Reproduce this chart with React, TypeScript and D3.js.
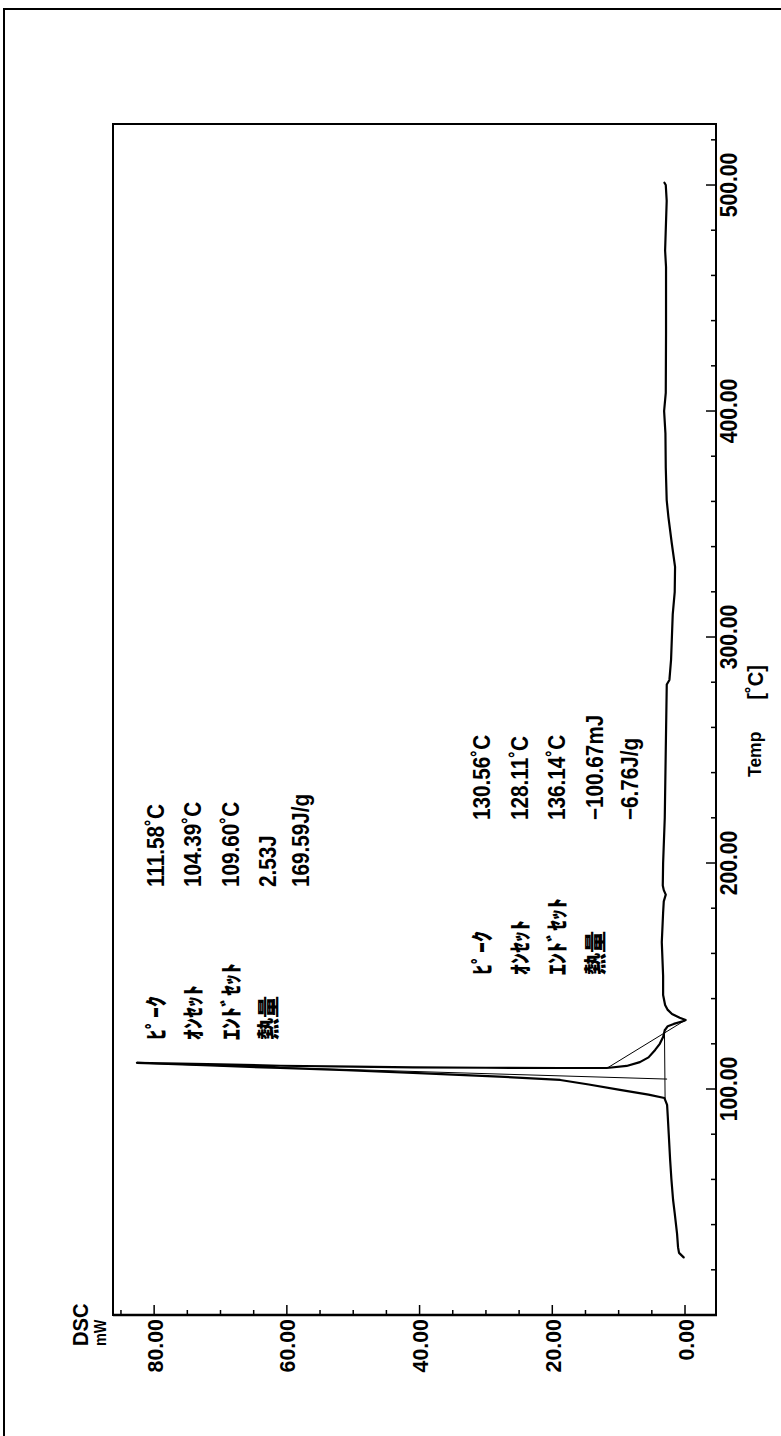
import React from "react";
import * as d3 from "d3";

// ---- data (temperature in °C, DSC signal in mW) ----
const traceTemp = [
  25.5, 27.5, 30, 36, 45, 51, 60, 69, 80, 88, 93, 96,
  97.5, 99.6, 102, 104, 105.5, 107.1, 108.3, 109.3, 110.4, 111.2, 111.58,
  111.0, 110.3, 109.9, 109.6, 109.4, 109.3, 109.3, 110.2, 111.9, 114, 117.3, 120, 123, 126,
  127.8, 128.8, 130.1, 130.56, 131.5, 133.2, 135, 137.2, 141.6, 150, 165, 178, 183, 186, 188,
  190, 200, 220, 250, 279, 281, 290, 310, 320, 331, 341.6, 353, 360.6, 375, 390, 400, 408,
  434.5, 463.7, 471, 493, 500, 501,
];
const traceDsc = [
  0.2, 0.9, 1.05, 1.2, 1.55, 1.8, 2.05, 2.25, 2.45, 2.6, 2.7, 3.1,
  5.5, 9.8, 14.5, 18.8, 28, 41, 51, 61, 71.5, 79, 82.6,
  72, 61, 50, 41, 30, 18.8, 11.8, 8.8, 6.8, 5.5, 4.5, 3.8, 3.3, 3.05,
  2.6, 1.7, 0.2, -0.1, 0.8, 1.96, 2.6, 3.0, 3.3, 3.3, 3.5, 3.3, 3.2, 2.9, 3.2,
  3.35, 3.3, 3.05, 2.9, 2.75, 2.35, 2.1, 1.85, 1.55, 1.5, 2.0, 2.5, 2.76, 2.9, 2.95, 3.15, 2.9,
  2.86, 2.86, 3.0, 2.76, 2.9, 3.1,
];

// analysis lines
const baselineTemp = [95.5, 126.5];
const baselineDsc = [3.0, 3.1];
const onsetTangentTemp = [104.39, 111.3];
const onsetTangentDsc = [2.7, 81];
const slopeLineTemp = [109.5, 130.56];
const slopeLineDsc = [11.6, -0.1];

const tempTickValues = d3.range(20, 527, 20);
const tempLabelValues = [100, 200, 300, 400, 500];
const dscTickValues = d3.range(0, 86, 5);
const dscLabelValues = [0, 20, 40, 60, 80];

const peak1Labels = ["ﾋﾟｰｸ", "ｵﾝｾｯﾄ", "ｴﾝﾄﾞｾｯﾄ", "熱量"];
const peak1Values = ["111.58˚C", "104.39˚C", "109.60˚C", "2.53J", "169.59J/g"];
const peak2Labels = ["ﾋﾟｰｸ", "ｵﾝｾｯﾄ", "ｴﾝﾄﾞｾｯﾄ", "熱量"];
const peak2Values = ["130.56˚C", "128.11˚C", "136.14˚C", "−100.67mJ", "−6.76J/g"];

const W = 781;
const H = 1436;
const box = { left: 113, right: 716, top: 124, bottom: 1315 };

const FONT = "'Liberation Sans', Arial, sans-serif";
const JFONT = "'Noto Sans CJK JP', sans-serif";

export default function App() {
  // original chart rotated -90°: temperature runs bottom->top, DSC runs right->left
  const yT = d3.scaleLinear().domain([0, 527]).range([box.bottom, box.top]);
  const xD = d3.scaleLinear().domain([-4.67, 86.2]).range([box.right, box.left]);

  const line = d3
    .line<[number, number]>()
    .x((d) => xD(d[1]))
    .y((d) => yT(d[0]));

  const zip = (a: number[], b: number[]) => a.map((t, i) => [t, b[i]] as [number, number]);

  const tracePath = line(zip(traceTemp, traceDsc)) || "";
  const basePath = line(zip(baselineTemp, baselineDsc)) || "";
  const onsetPath = line(zip(onsetTangentTemp, onsetTangentDsc)) || "";
  const slopePath = line(zip(slopeLineTemp, slopeLineDsc)) || "";

  const fmt = d3.format(".2f");

  const rotText = (
    key: string,
    x: number,
    y: number,
    text: string,
    anchor: "start" | "middle" | "end",
    size: number,
    sx = 1,
    family = FONT,
    weight: string | number = "bold"
  ) => (
    <text
      key={key}
      transform={`translate(${x},${y}) rotate(-90) scale(${sx},1)`}
      textAnchor={anchor}
      fontFamily={family}
      fontWeight={weight}
      fontSize={size}
      fill="#000"
    >
      {text}
    </text>
  );

  const p1Base = [164, 201, 239, 276, 309];
  const p2Base = [490, 528, 565, 603, 638];

  return (
    <svg
      width={W}
      height={H}
      style={{ position: "absolute", left: 0, top: 0, background: "#fff" }}
    >
      <rect x={0} y={0} width={W} height={H} fill="#fff" />
      {/* outer frame */}
      <path d={`M4,${H} V9 H${W}`} fill="none" stroke="#000" strokeWidth={2} />
      {/* plot box */}
      <rect
        x={box.left}
        y={box.top}
        width={box.right - box.left}
        height={box.bottom - box.top}
        fill="none"
        stroke="#000"
        strokeWidth={2}
      />
      <line x1={box.left} x2={box.right + 1} y1={box.bottom} y2={box.bottom} stroke="#000" strokeWidth={2.5} />

      {/* temperature ticks (right side, inward) */}
      {tempTickValues.map((t) => {
        const major = t % 100 === 0;
        return (
          <line
            key={"tt" + t}
            x1={box.right}
            x2={box.right - (major ? 10 : 5)}
            y1={yT(t)}
            y2={yT(t)}
            stroke="#000"
            strokeWidth={1.5}
          />
        );
      })}
      {tempLabelValues.map((t) => rotText("tl" + t, 737, yT(t), fmt(t), "middle", 23, 0.92))}

      {/* DSC ticks (bottom, inward) */}
      {dscTickValues.map((v) => {
        const major = v % 20 === 0;
        return (
          <line
            key={"dt" + v}
            x1={xD(v)}
            x2={xD(v)}
            y1={box.bottom}
            y2={box.bottom - (major ? 10 : 5)}
            stroke="#000"
            strokeWidth={1.5}
          />
        );
      })}
      {dscLabelValues.map((v) => rotText("dl" + v, xD(v) + 8.5, box.bottom + 4, fmt(v), "end", 23, 0.93))}

      {/* axis titles */}
      {rotText("dsc", 88, 1346, "DSC", "start", 22, 0.92)}
      {rotText("mw", 106, 1346, "mW", "start", 17, 0.85)}
      {rotText("temp", 761, 777, "Temp", "start", 19, 0.92)}
      {rotText("unit", 763, 665, "[˚C]", "end", 22, 0.92)}

      {/* analysis lines */}
      <path d={basePath} fill="none" stroke="#000" strokeWidth={1} />
      <path d={onsetPath} fill="none" stroke="#000" strokeWidth={1} />
      <path d={slopePath} fill="none" stroke="#000" strokeWidth={1} />

      {/* DSC trace */}
      <path
        d={tracePath}
        fill="none"
        stroke="#000"
        strokeWidth={2.2}
        strokeLinejoin="round"
        strokeLinecap="round"
      />

      {/* peak annotations */}
      {peak1Labels.map((s, i) => rotText("p1l" + i, p1Base[i], 1040, s, "start", 22, 1, JFONT, 900))}
      {peak1Values.map((s, i) => rotText("p1v" + i, p1Base[i], 887, s, "start", 23, 0.9))}
      {peak2Labels.map((s, i) => rotText("p2l" + i, p2Base[i], 975, s, "start", 22, 1, JFONT, 900))}
      {peak2Values.map((s, i) => rotText("p2v" + i, p2Base[i], 820, s, "start", 23, 0.9))}
    </svg>
  );
}
